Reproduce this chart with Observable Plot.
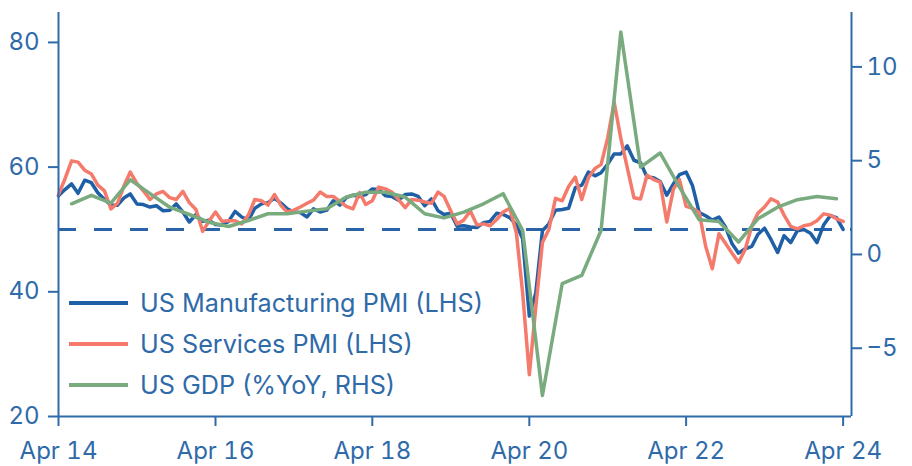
<!DOCTYPE html>
<html><head><meta charset="utf-8">
<script src="https://cdn.jsdelivr.net/npm/d3@7"></script>
<script src="https://cdn.jsdelivr.net/npm/@observablehq/plot@0.6"></script>
<style>
body{margin:0;background:#fff;}
#wrap{position:relative;width:912px;height:466px;font-family:Inter, "DejaVu Sans", sans-serif;}
.legend{position:absolute;left:69px;top:282.5px;color:#2f6aa9;font-size:25.2px;}
.item{display:flex;align-items:center;height:41px;white-space:nowrap;}
.sw{width:59px;height:4px;margin-right:12px;}
</style></head><body><div id="wrap"></div>
<script>
// Monthly PMI, Apr 2014 .. Apr 2024
const pmiStart = "2014-04-01";
const manufacturingPMI = [
  55.4, 56.4, 57.3, 55.8, 57.9, 57.5, 55.9, 54.8, 53.9,
  53.9, 55.1, 55.7, 54.1, 54.0, 53.6, 53.8, 53.0, 53.1, 54.1, 52.8, 51.2,
  52.4, 51.3, 51.5, 50.8, 50.7, 51.3, 52.9, 52.0, 51.5, 53.4, 54.1, 54.3,
  55.0, 54.2, 53.3, 52.8, 52.7, 52.0, 53.3, 52.8, 53.1, 54.6, 53.9, 55.1,
  55.5, 55.3, 55.6, 56.5, 56.4, 55.4, 55.3, 54.7, 55.6, 55.7, 55.3, 53.8,
  54.9, 53.0, 52.4, 52.6, 50.5, 50.6, 50.4, 50.3, 51.1, 51.3, 52.6, 52.4,
  51.9, 50.7, 48.5, 36.1, 39.8, 49.8, 50.9, 53.1, 53.2, 53.4, 56.7, 57.1,
  59.2, 58.6, 59.1, 60.5, 62.1, 62.1, 63.4, 61.1, 60.7, 58.4, 58.3, 57.7,
  55.5, 57.3, 58.8, 59.2, 57.0, 52.7, 52.2, 51.5, 52.0, 50.4, 47.7, 46.2,
  46.9, 47.3, 49.2, 50.2, 48.4, 46.3, 49.0, 47.9, 49.8, 50.0, 49.4, 47.9,
  50.7, 52.2, 51.9, 50.0
];
const servicesPMI = [
  55.6, 58.1, 61.0, 60.8, 59.5, 58.9, 57.1, 56.2, 53.3,
  54.2, 57.1, 59.2, 57.4, 56.2, 54.8, 55.7, 56.1, 55.1, 54.8, 56.1, 54.3,
  53.2, 49.7, 51.3, 52.8, 51.3, 51.4, 51.4, 50.9, 52.3, 54.8, 54.6, 53.9,
  55.6, 53.8, 52.8, 53.1, 53.6, 54.2, 54.7, 56.0, 55.3, 55.3, 54.5, 53.7,
  53.3, 55.9, 54.0, 54.6, 56.8, 56.5, 56.0, 54.8, 53.5, 54.8, 54.7, 54.4,
  54.2, 56.0, 55.3, 53.0, 50.9, 51.5, 53.0, 50.7, 50.9, 50.6, 51.6, 52.8,
  53.4, 49.4, 39.8, 26.7, 37.5, 47.9, 50.0, 55.0, 54.6, 56.9, 58.4, 54.8,
  58.3, 59.8, 60.4, 64.7, 70.4, 64.6, 59.9, 55.1, 54.9, 58.7, 58.0, 57.6,
  51.2, 56.5, 58.0, 53.7, 53.4, 52.7, 47.3, 43.7, 49.3, 47.8, 46.2, 44.7,
  46.8, 50.6, 52.6, 53.6, 54.9, 54.4, 52.3, 50.5, 50.1, 50.6, 50.8, 51.4,
  52.5, 52.3, 51.7, 51.3
];
// Quarterly GDP %YoY, Q2 2014 .. Q1 2024 (plotted at quarter-end month)
const gdpStart = "2014-06-01";
const gdpYoY = [
  2.7, 3.15, 2.74,
  3.98, 3.24, 2.52, 2.13,
  1.72, 1.49, 1.81, 2.17,
  2.17, 2.31, 2.44, 3.06,
  3.32, 3.32, 3.06, 2.17,
  1.95, 2.26, 2.7, 3.24,
  1.28, -7.52, -1.56, -1.12,
  1.28, 11.86, 4.66, 5.41,
  3.59, 1.85, 1.75, 0.66,
  1.9, 2.52, 2.92, 3.09,
  2.97
];
const xTickDates = ["2014-04-01","2016-04-01","2018-04-01","2020-04-01","2022-04-01","2024-04-01"];
const xTickLabels = ["Apr 14","Apr 16","Apr 18","Apr 20","Apr 22","Apr 24"];
const xDomain = ["2014-04-01","2024-05-10"];
const leftDomain = [20, 84.8];
const rightDomain = [-8.64, 12.9];
const leftTicks = [20, 40, 60, 80];
const rightTicks = [-5, 0, 5, 10];
const threshold = [50];
const seriesNames = ["US Manufacturing PMI (LHS)", "US Services PMI (LHS)", "US GDP (%YoY, RHS)"];
const seriesColors = ["#1f5fa6", "#f47a6b", "#79ab7f"];
const axisColor = "#2f6aa9";

const monthly = (start, i) => d3.utcMonth.offset(new Date(start), i);
const quarterly = (start, i) => d3.utcMonth.offset(new Date(start), 3 * i);
const mfg = manufacturingPMI.map((v, i) => ({date: monthly(pmiStart, i), v}));
const svc = servicesPMI.map((v, i) => ({date: monthly(pmiStart, i), v}));
const toLeft = d3.scaleLinear().domain(rightDomain).range(leftDomain);
const gdp = gdpYoY.map((v, i) => ({date: quarterly(gdpStart, i), v: toLeft(v)}));
const fmt = d3.format("d");

const chart = Plot.plot({
  width: 912, height: 466,
  marginLeft: 58, marginRight: 61, marginTop: 12, marginBottom: 50,
  style: {fontFamily: "Inter, sans-serif", fontSize: "24px", background: "white", color: axisColor},
  x: {type: "utc", domain: xDomain.map(d => new Date(d)), axis: null},
  y: {domain: leftDomain, axis: null},
  marks: [
    Plot.ruleY(threshold, {stroke: "#2a63a8", strokeWidth: 3, strokeDasharray: "18,18"}),
    Plot.lineY(mfg, {x: "date", y: "v", stroke: seriesColors[0], strokeWidth: 3.5}),
    Plot.lineY(svc, {x: "date", y: "v", stroke: seriesColors[1], strokeWidth: 3.5}),
    Plot.lineY(gdp, {x: "date", y: "v", stroke: seriesColors[2], strokeWidth: 3.5}),
    Plot.ruleX([xDomain[0]].map(d => new Date(d)), {stroke: axisColor, strokeWidth: 2}),
    Plot.ruleX([xDomain[1]].map(d => new Date(d)), {stroke: axisColor, strokeWidth: 2}),
    Plot.ruleY([leftDomain[0]], {stroke: axisColor, strokeWidth: 2}),
    Plot.axisY(leftTicks, {anchor: "left", label: null, tickSize: 10, tickPadding: 9, color: axisColor, strokeWidth: 2, fontSize: 24}),
    Plot.axisY(rightTicks.map(t => toLeft(t)), {anchor: "right", label: null, tickSize: 10, tickPadding: 5, color: axisColor, strokeWidth: 2, fontSize: 24,
      tickFormat: d => fmt(Math.round(toLeft.invert(d)))}),
    Plot.axisX(xTickDates.map(d => new Date(d)), {anchor: "bottom", label: null, tickSize: 10, tickPadding: 15, color: axisColor, strokeWidth: 2, fontSize: 24,
      tickFormat: d => xTickLabels[xTickDates.indexOf(d3.utcFormat("%Y-%m-%d")(d))]})
  ]
});

const wrap = document.getElementById("wrap");
wrap.appendChild(chart);
const legend = document.createElement("div");
legend.className = "legend";
seriesNames.forEach((name, i) => {
  const item = document.createElement("div");
  item.className = "item";
  const sw = document.createElement("div");
  sw.className = "sw";
  sw.style.background = seriesColors[i];
  const label = document.createElement("span");
  label.textContent = name;
  item.appendChild(sw);
  item.appendChild(label);
  legend.appendChild(item);
});
wrap.appendChild(legend);
</script>
</body></html>
